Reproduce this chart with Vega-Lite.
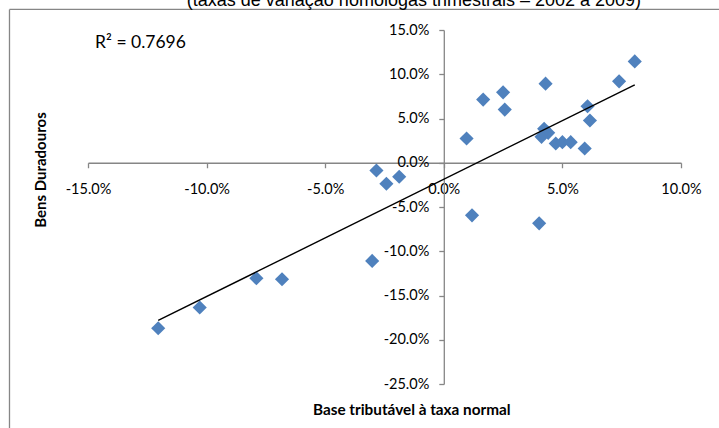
{
  "$schema": "https://vega.github.io/schema/vega-lite/v6.json",
  "width": 593,
  "height": 354,
  "autosize": {"type": "none"},
  "padding": {"left": 88, "top": 30, "right": 38, "bottom": 44},
  "background": "white",
  "config": {"view": {"stroke": null}},
  "datasets": {
    "pts": [
      {"base": 8.05, "bens": 11.45},
      {"base": 7.39, "bens": 9.2},
      {"base": 4.29, "bens": 8.94},
      {"base": 2.50, "bens": 7.96},
      {"base": 1.66, "bens": 7.14},
      {"base": 2.57, "bens": 6.01},
      {"base": 6.06, "bens": 6.38},
      {"base": 6.16, "bens": 4.77},
      {"base": 4.23, "bens": 3.83},
      {"base": 4.40, "bens": 3.38},
      {"base": 4.12, "bens": 2.93},
      {"base": 0.96, "bens": 2.74},
      {"base": 4.72, "bens": 2.18},
      {"base": 5.00, "bens": 2.33},
      {"base": 5.35, "bens": 2.33},
      {"base": 5.94, "bens": 1.61},
      {"base": -2.84, "bens": -0.87},
      {"base": -2.42, "bens": -2.37},
      {"base": -1.88, "bens": -1.58},
      {"base": 1.19, "bens": -5.94},
      {"base": 4.02, "bens": -6.85},
      {"base": -12.04, "bens": -18.7},
      {"base": -10.29, "bens": -16.35},
      {"base": -7.90, "bens": -13.05},
      {"base": -6.82, "bens": -13.16},
      {"base": -3.02, "bens": -11.09}
    ]
  },
  "layer": [
    {
      "data": {"name": "pts"},
      "mark": {"type": "point", "shape": "diamond", "filled": true, "size": 200, "color": "#4F81BD", "opacity": 1},
      "encoding": {
        "x": {
          "field": "base", "type": "quantitative",
          "scale": {"domain": [-15, 10], "nice": false, "zero": false},
          "axis": {
            "values": [-15, -10, -5, 0, 5, 10],
            "offset": -221.25,
            "title": null,
            "grid": false,
            "labelExpr": "replace(format(datum.value, '.1f'), '\u2212', '-') + '%'",
            "labelFlush": false,
            "labelOverlap": false,
            "labelFont": "Lato",
            "labelFontSize": 14.5,
            "labelColor": "#000000",
            "labelPadding": 15,
            "tickSize": 5,
            "tickColor": "#868686",
            "domainColor": "#868686",
            "domainWidth": 1.3,
            "tickWidth": 1.3
          }
        },
        "y": {
          "field": "bens", "type": "quantitative",
          "scale": {"domain": [-25, 15], "nice": false, "zero": false},
          "axis": {
            "values": [-25, -20, -15, -10, -5, 0, 5, 10, 15],
            "offset": -355.8,
            "title": null,
            "grid": false,
            "labelExpr": "replace(format(datum.value, '.1f'), '\u2212', '-') + '%'",
            "labelFlush": false,
            "labelOverlap": false,
            "labelFont": "Lato",
            "labelFontSize": 14.5,
            "labelColor": "#000000",
            "labelPadding": 10,
            "tickSize": 5,
            "tickColor": "#868686",
            "domainColor": "#868686",
            "domainWidth": 1.3,
            "tickWidth": 1.3
          }
        }
      }
    },
    {
      "data": {"name": "pts"},
      "transform": [{"regression": "bens", "on": "base"}],
      "mark": {"type": "line", "color": "#000000", "strokeWidth": 1.4},
      "encoding": {
        "x": {"field": "base", "type": "quantitative"},
        "y": {"field": "bens", "type": "quantitative"}
      }
    },
    {
      "data": {"values": [{}]},
      "mark": {"type": "rule", "color": "#868686", "strokeWidth": 1.3},
      "encoding": {
        "x": {"datum": -18.31, "type": "quantitative"},
        "y": {"datum": 17.32, "type": "quantitative"},
        "y2": {"datum": -32}
      }
    },
    {
      "data": {"values": [{}]},
      "mark": {"type": "rule", "color": "#868686", "strokeWidth": 1.3},
      "encoding": {
        "y": {"datum": 17.32, "type": "quantitative"},
        "x": {"datum": -18.31, "type": "quantitative"},
        "x2": {"datum": 13}
      }
    },
    {
      "data": {"values": [{}]},
      "mark": {"type": "text", "text": "(taxas de variação homólogas trimestrais – 2002 a 2009)", "font": "Liberation Sans", "fontSize": 18, "align": "center", "baseline": "alphabetic", "color": "#000000"},
      "encoding": {
        "x": {"datum": -1.26, "type": "quantitative"},
        "y": {"datum": 17.75, "type": "quantitative"}
      }
    },
    {
      "data": {"values": [{}]},
      "mark": {"type": "text", "text": "R² = 0.7696", "font": "Lato", "fontSize": 17.5, "align": "left", "baseline": "middle", "color": "#000000"},
      "encoding": {
        "x": {"datum": -14.7, "type": "quantitative"},
        "y": {"datum": 13.56, "type": "quantitative"}
      }
    },
    {
      "data": {"values": [{}]},
      "mark": {"type": "text", "text": "Base tributável à taxa normal", "font": "Lato", "fontSize": 15.3, "fontWeight": "bold", "align": "center", "baseline": "alphabetic", "color": "#000000"},
      "encoding": {
        "x": {"datum": -1.35, "type": "quantitative"},
        "y": {"datum": -28.5, "type": "quantitative"}
      }
    },
    {
      "data": {"values": [{}]},
      "mark": {"type": "text", "text": "Bens Duradouros", "font": "Lato", "fontSize": 15, "fontWeight": "bold", "align": "center", "baseline": "middle", "angle": 270, "color": "#000000"},
      "encoding": {
        "x": {"datum": -16.98, "type": "quantitative"},
        "y": {"datum": -0.82, "type": "quantitative"}
      }
    }
  ]
}
